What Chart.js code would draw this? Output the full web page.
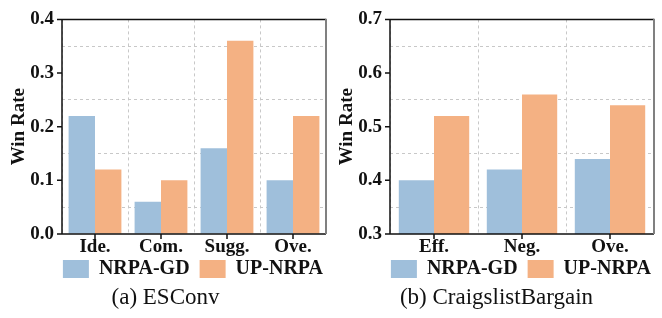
<!DOCTYPE html>
<html>
<head>
<meta charset="utf-8">
<script src="https://cdn.jsdelivr.net/npm/chart.js@4.4.0/dist/chart.umd.min.js"></script>
<style>
  body { margin: 0; background: #fff; }
  #wrap { position: relative; width: 662px; height: 318px; overflow: hidden; }
  .panel { position: absolute; top: 0; width: 333px; height: 289px; }
  .caption { position: absolute; top: 284px; width: 331px; text-align: center; line-height: 26px;
    font-family: "Liberation Serif", serif; font-size: 23px; color: #111; }
</style>
</head>
<body>
<div id="wrap">
  <div class="panel" style="left:0"><canvas id="esconv" width="333" height="289"></canvas></div>
  <div class="panel" style="left:328px"><canvas id="cb" width="333" height="289"></canvas></div>
  <div class="caption" style="left:0">(a) ESConv</div>
  <div class="caption" style="left:331px">(b) CraigslistBargain</div>
</div>
<script>
// data
const seriesNames = ['NRPA-GD', 'UP-NRPA'];
const seriesColors = ['#9fbfdb', '#f4b183'];

const esconvCategories = ['Ide.', 'Com.', 'Sugg.', 'Ove.'];
const esconvNrpaGd = [0.22, 0.06, 0.16, 0.10];
const esconvUpNrpa = [0.12, 0.10, 0.36, 0.22];
const esconvTicks = [0.0, 0.1, 0.2, 0.3, 0.4];

const cbCategories = ['Eff.', 'Neg.', 'Ove.'];
const cbNrpaGd = [0.40, 0.42, 0.44];
const cbUpNrpa = [0.52, 0.56, 0.54];
const cbTicks = [0.3, 0.4, 0.5, 0.6, 0.7];

const serif = '"Liberation Serif", "Times New Roman", serif';
const tickFont = { family: serif, size: 19, weight: 'bold' };
const legendFont = { family: serif, size: 20, weight: 'bold' };

// is this value one of the labelled ticks (0.1 steps) or a half step
const isMajor = (v, ticks) => ticks.some(t => Math.abs(t - v) < 1e-6);

// frame + small outward tick marks like matplotlib
const framePlugin = {
  id: 'frame',
  afterLayout(chart) {
    // x axis box is squeezed so the legend sits close; don't let it clip its labels
    chart.scales.x.bottom += 20;
  },
  afterDraw(chart) {
    const { ctx, chartArea: a, scales } = chart;
    const major = chart.options.majorTicks;
    ctx.save();
    ctx.strokeStyle = '#111';
    ctx.lineWidth = 1.5;
    ctx.beginPath();
    ctx.moveTo(a.left, a.top); ctx.lineTo(a.right, a.top);
    ctx.moveTo(a.left, a.top - 0.75); ctx.lineTo(a.left, a.bottom);
    ctx.moveTo(a.left, a.bottom); ctx.lineTo(a.right, a.bottom);
    major.forEach(v => {
      const y = scales.y.getPixelForValue(v);
      ctx.moveTo(a.left - 5, y); ctx.lineTo(a.left, y);
    });
    chart.data.labels.forEach((l, i) => {
      const x = scales.x.getPixelForValue(i);
      ctx.moveTo(x, a.bottom); ctx.lineTo(x, a.bottom + 5);
    });
    ctx.stroke();
    ctx.strokeStyle = '#808080';
    ctx.lineWidth = 2;
    ctx.beginPath();
    ctx.moveTo(a.right, a.top - 0.75); ctx.lineTo(a.right, a.bottom);
    ctx.stroke();
    ctx.restore();
  }
};

function makeChart(id, categories, gd, up, ticks) {
  const step = (ticks[1] - ticks[0]) / 2;
  return new Chart(document.getElementById(id), {
    type: 'bar',
    data: {
      labels: categories,
      datasets: [
        { label: seriesNames[0], data: gd, backgroundColor: seriesColors[0] },
        { label: seriesNames[1], data: up, backgroundColor: seriesColors[1] }
      ]
    },
    options: {
      responsive: false,
      animation: false,
      majorTicks: ticks,
      categoryPercentage: 0.8,
      barPercentage: 1.0,
      layout: { padding: { left: 4, right: 0, top: 10, bottom: 0 } },
      plugins: {
        legend: {
          position: 'bottom',
          align: 'end',
          labels: {
            boxWidth: 26,
            boxHeight: 18,
            padding: 10,
            color: '#111',
            font: legendFont
          }
        },
        tooltip: { enabled: false }
      },
      scales: {
        x: {
          grid: { offset: true, drawTicks: false, color: '#c8c8c8', lineWidth: 1 },
          border: { display: false, dash: [3, 3] },
          ticks: { padding: 2, color: '#111', font: tickFont },
          afterFit: (s) => { s.height = 15; }
        },
        y: {
          min: ticks[0],
          max: ticks[ticks.length - 1],
          grid: {
            drawTicks: false,
            color: (c) => (c.tick && !isMajor(c.tick.value, ticks) ? '#c8c8c8' : 'rgba(0,0,0,0)'),
            lineWidth: 1
          },
          border: { display: false, dash: [3, 3] },
          ticks: {
            stepSize: step,
            autoSkip: false,
            padding: 8,
            color: '#111',
            font: tickFont,
            callback: (v) => (isMajor(v, ticks) ? v.toFixed(1) : '')
          },
          title: {
            display: true,
            text: 'Win Rate',
            color: '#111',
            padding: { top: 4, bottom: 0 },
            font: tickFont
          },
          afterFit: (s) => { s.width = 58; }
        },
        // empty right axis, only keeps a small gap right of the plot
        yRight: {
          position: 'right',
          display: true,
          grid: { display: false },
          border: { display: false },
          ticks: { display: false },
          afterFit: (s) => { s.width = 7; }
        }
      }
    },
    plugins: [framePlugin]
  });
}

makeChart('esconv', esconvCategories, esconvNrpaGd, esconvUpNrpa, esconvTicks);
makeChart('cb', cbCategories, cbNrpaGd, cbUpNrpa, cbTicks);
</script>
</body>
</html>
